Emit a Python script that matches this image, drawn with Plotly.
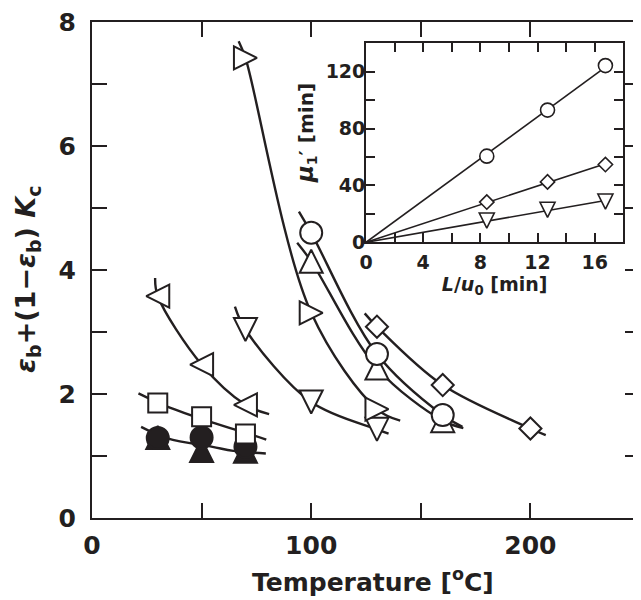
import numpy as np
import plotly.graph_objects as go

INK = "#231f20"
FONT = "DejaVu Sans"

# ---------------- main panel data: Temperature [°C] vs eps_b + (1-eps_b) Kc
tri_right_T = [70, 100, 130]
tri_right_v = [7.42, 3.31, 1.756]
tri_right_fit_T = [66.9, 70, 100, 130, 140.6]
tri_right_fit_v = [7.69, 7.42, 3.31, 1.756, 1.57]

tri_down_T = [70, 100, 130]
tri_down_v = [3.04, 1.87, 1.43]
tri_down_fit_T = [65.2, 70, 100, 130, 135.3]
tri_down_fit_v = [3.41, 3.04, 1.87, 1.43, 1.36]

tri_left_T = [30, 50, 70]
tri_left_v = [3.58, 2.475, 1.826]
tri_left_fit_T = [28.8, 30, 50, 70, 80.8]
tri_left_fit_v = [3.87, 3.58, 2.475, 1.826, 1.675]

square_T = [30, 50, 70]
square_v = [1.853, 1.635, 1.355]
square_fit_T = [21.2, 33.8, 54, 73.6, 79.5]
square_fit_v = [2.01, 1.805, 1.551, 1.336, 1.266]

fcircle_T = [30, 50, 70]
fcircle_v = [1.29, 1.30, 1.15]
ftri_T = [30, 50, 70]
ftri_v = [1.30, 1.09, 1.077]
filled_fit_T = [22.4, 34.5, 55, 64.5, 79.3]
filled_fit_v = [1.47, 1.283, 1.147, 1.082, 1.04]

circle_T = [100, 130, 160]
circle_v = [4.60, 2.645, 1.66]
circle_fit_T = [94.4, 100, 130, 160, 169]
circle_fit_v = [4.94, 4.60, 2.645, 1.66, 1.47]

tri_up_T = [100, 130, 160]
tri_up_v = [4.14, 2.42, 1.57]
tri_up_fit_T = [93.6, 100, 130, 160, 169.4]
tri_up_fit_v = [4.44, 4.14, 2.42, 1.57, 1.45]

diamond_T = [130, 160, 200]
diamond_v = [3.086, 2.144, 1.444]
diamond_fit_T = [124.4, 130, 160, 200, 207]
diamond_fit_v = [3.30, 3.086, 2.144, 1.444, 1.336]

# ---------------- inset data: L/u0 [min] vs mu1' [min]
L_u0 = [8.45, 12.7, 16.75]
mu_circle = [60.6, 93.0, 124.3]
mu_diamond = [28.3, 42.5, 54.7]
mu_tri = [15.3, 22.9, 28.7]

fig = go.Figure()


def tri_marker(direction, size, fill="white", lw=2.0):
    ang = {"down": 0, "up": 180, "left": 90, "right": 270}[direction]
    return dict(symbol="arrow-down", angle=ang, standoff=size / 2, size=size,
                color=fill, line=dict(color=INK, width=lw))


def plain_marker(symbol, size, fill="white", lw=2.0):
    return dict(symbol=symbol, size=size, color=fill, line=dict(color=INK, width=lw))


# fitted curves (drawn first so open markers cover them)
for fx, fy in [(tri_right_fit_T, tri_right_fit_v), (tri_down_fit_T, tri_down_fit_v),
               (tri_left_fit_T, tri_left_fit_v), (square_fit_T, square_fit_v),
               (filled_fit_T, filled_fit_v), (circle_fit_T, circle_fit_v),
               (tri_up_fit_T, tri_up_fit_v), (diamond_fit_T, diamond_fit_v)]:
    fig.add_trace(go.Scatter(x=fx, y=fy, mode="lines",
                             line=dict(color=INK, width=2.4, shape="spline", smoothing=1.0),
                             hoverinfo="skip", showlegend=False))

TS = 23
markers = [
    (ftri_T, ftri_v, tri_marker("up", TS, fill=INK)),
    (fcircle_T, fcircle_v, plain_marker("circle", 22, fill=INK)),
    (square_T, square_v, plain_marker("square", 19)),
    (tri_left_T, tri_left_v, tri_marker("left", TS)),
    (tri_down_T, tri_down_v, tri_marker("down", TS)),
    (tri_right_T, tri_right_v, tri_marker("right", TS)),
    (tri_up_T, tri_up_v, tri_marker("up", TS)),
    (circle_T, circle_v, plain_marker("circle", 22)),
    (diamond_T, diamond_v, plain_marker("diamond", 17)),
]
for mx, my, mk in markers:
    fig.add_trace(go.Scatter(x=mx, y=my, mode="markers", marker=mk, showlegend=False))

# inset: straight lines through origin (least squares), then markers
xs = np.array(L_u0)
for ys, mk in [(mu_circle, plain_marker("circle", 14, lw=1.6)),
               (mu_diamond, plain_marker("diamond", 11, lw=1.6)),
               (mu_tri, tri_marker("down", 15, lw=1.6))]:
    ya = np.array(ys)
    slope = float((xs * ya).sum() / (xs * xs).sum())
    xl = [0.0, float(xs.max())]
    fig.add_trace(go.Scatter(x=xl, y=[slope * v for v in xl], mode="lines",
                             line=dict(color=INK, width=1.6), xaxis="x2", yaxis="y2",
                             showlegend=False, hoverinfo="skip"))
    fig.add_trace(go.Scatter(x=L_u0, y=ys, mode="markers", marker=mk,
                             xaxis="x2", yaxis="y2", showlegend=False))

bold = dict(family=FONT, color=INK, weight="bold")
axis_common = dict(showgrid=False, zeroline=False, showline=True, linecolor=INK,
                   mirror="ticks", ticks="inside", tickcolor=INK, automargin=False,
                   tickmode="linear", tick0=0, ticklabeloverflow="allow")


def minor(dt, ln, w):
    return dict(dtick=dt, ticks="inside", ticklen=ln, tickwidth=w, tickcolor=INK,
                tick0=0, showgrid=False)


# the page body adds an 8px offset, so the figure is sized to fit the 641x600 window
fig.update_layout(
    width=633, height=592,
    margin=dict(l=84, r=1, t=14, b=82, autoexpand=False),
    paper_bgcolor="white", plot_bgcolor="white",
    font=dict(family=FONT, color=INK),
    xaxis=dict(axis_common, range=[0, 250], dtick=100, minor=minor(50, 15, 2),
               ticklen=15, tickwidth=2, linewidth=2, tickfont=dict(bold, size=25),
               ticklabelstandoff=4),
    yaxis=dict(axis_common, range=[0, 8], dtick=2, minor=minor(1, 15, 2),
               ticklen=15, tickwidth=2, linewidth=2, tickfont=dict(bold, size=25),
               ticklabelstandoff=9),
    xaxis2=dict(axis_common, domain=[0.5, 0.9695], anchor="y2", range=[0, 18],
                dtick=4, minor=minor(2, 9, 1.8), ticklen=9, tickwidth=1.8,
                linewidth=1.8, tickfont=dict(bold, size=19), ticklabelstandoff=2,
                title=dict(text="<i>L</i>/<i>u</i><sub>0</sub> [min]",
                           font=dict(bold, size=19), standoff=6)),
    yaxis2=dict(axis_common, domain=[0.5558, 0.9571], anchor="x2", range=[0, 140],
                dtick=40, minor=minor(20, 9, 1.8), ticklen=9, tickwidth=1.8,
                linewidth=1.8, tickfont=dict(bold, size=19), ticklabelstandoff=-5),
    annotations=[
        dict(text="Temperature [<sup>o</sup>C]",
             xref="paper", yref="paper", x=0.5128, y=-0.127, xanchor="center",
             yanchor="middle", showarrow=False, borderpad=0, font=dict(bold, size=25)),
        dict(text="<i>ε</i><sub>b</sub>+(1−<i>ε</i><sub>b</sub>) <i>K</i><sub>c</sub>",
             xref="paper", yref="paper", x=-0.1168, y=0.482, xanchor="center",
             yanchor="middle", textangle=-90, showarrow=False,
             font=dict(bold, size=27)),
        dict(text="<span style='font-size:23px'><i>μ</i></span><sub>1</sub>′ [min]",
             xref="paper", yref="paper", x=0.3905, y=0.776, xanchor="center",
             yanchor="middle", textangle=-90, showarrow=False,
             font=dict(bold, size=20)),
    ],
)

fig.write_html("out.html")
